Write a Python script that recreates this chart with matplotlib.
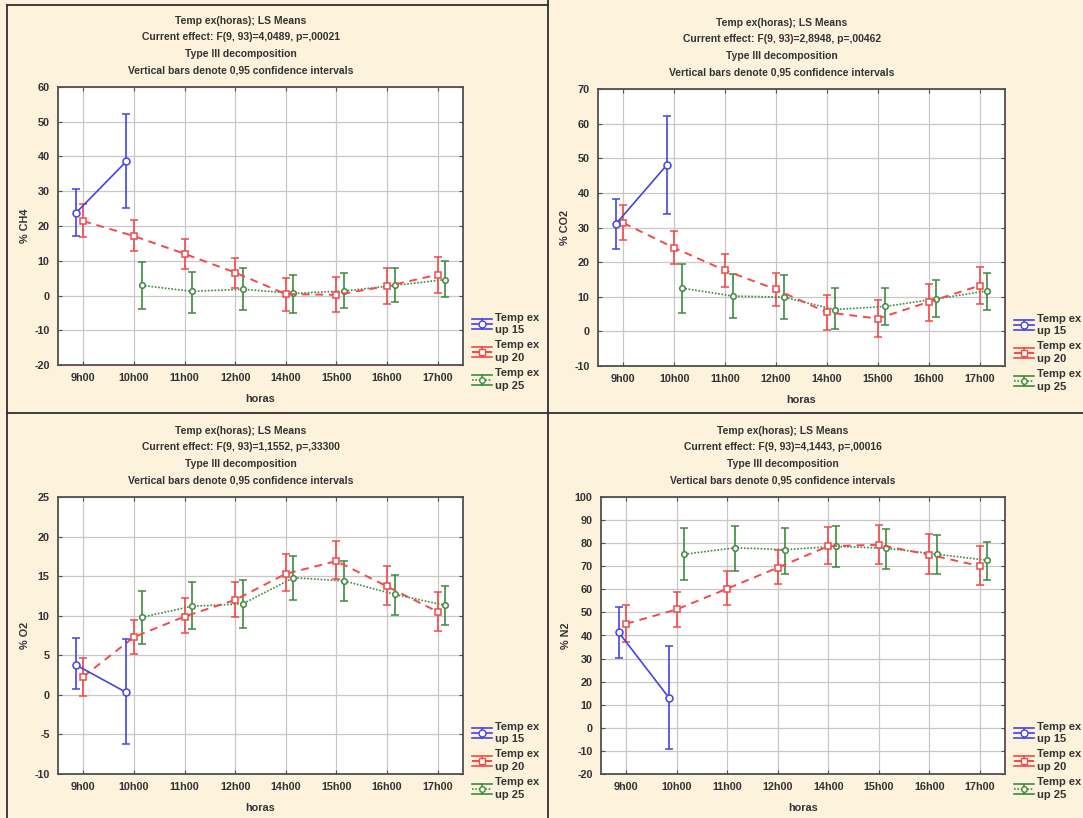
import matplotlib
matplotlib.use("Agg")
import matplotlib.pyplot as plt
from matplotlib.lines import Line2D
from matplotlib.legend_handler import HandlerBase
import numpy as np

plt.rcParams['font.family'] = ['Liberation Sans', 'DejaVu Sans']
plt.rcParams['axes.unicode_minus'] = False

hours = ["9h00", "10h00", "11h00", "12h00", "14h00", "15h00", "16h00", "17h00"]

# ---- CH4 ----
ch4_up15_mean = [23.7, 38.6]
ch4_up15_lo = [17.1, 25.3]
ch4_up15_hi = [30.6, 52.1]
ch4_up20_mean = [21.4, 17.1, 12.0, 6.6, 0.4, 0.2, 2.7, 6.0]
ch4_up20_lo = [16.9, 12.7, 7.6, 2.1, -4.5, -4.7, -2.5, 0.7]
ch4_up20_hi = [26.3, 21.6, 16.4, 10.8, 5.0, 5.4, 7.8, 11.0]
ch4_up25_mean = [2.9, 1.2, 1.8, 0.6, 1.3, 2.9, 4.6]
ch4_up25_lo = [-4.0, -5.0, -4.3, -5.0, -3.7, -2.0, -0.3]
ch4_up25_hi = [9.5, 6.9, 7.8, 6.0, 6.5, 8.0, 9.8]

# ---- CO2 ----
co2_up15_mean = [31.0, 48.0]
co2_up15_lo = [23.9, 34.0]
co2_up15_hi = [38.1, 62.1]
co2_up20_mean = [31.3, 24.1, 17.6, 12.1, 5.5, 3.7, 8.5, 13.2]
co2_up20_lo = [26.4, 19.6, 12.8, 7.2, 0.5, -1.7, 3.0, 7.8]
co2_up20_hi = [36.4, 28.9, 22.3, 16.8, 10.5, 9.1, 13.7, 18.6]
co2_up25_mean = [12.5, 10.2, 9.9, 6.3, 7.2, 9.4, 11.7]
co2_up25_lo = [5.3, 3.8, 3.7, 0.8, 1.7, 4.1, 6.3]
co2_up25_hi = [19.6, 16.5, 16.3, 12.4, 12.6, 14.8, 17.0]

# ---- O2 ----
o2_up15_mean = [3.8, 0.3]
o2_up15_lo = [0.7, -6.2]
o2_up15_hi = [7.2, 7.0]
o2_up20_mean = [2.3, 7.3, 9.9, 12.0, 15.3, 16.9, 13.7, 10.5]
o2_up20_lo = [-0.1, 5.1, 7.8, 9.9, 13.1, 14.6, 11.3, 8.1]
o2_up20_hi = [4.6, 9.5, 12.2, 14.3, 17.8, 19.4, 16.3, 13.0]
o2_up25_mean = [9.8, 11.2, 11.5, 14.8, 14.4, 12.7, 11.3]
o2_up25_lo = [6.4, 8.3, 8.4, 12.0, 11.8, 10.1, 8.8]
o2_up25_hi = [13.1, 14.3, 14.5, 17.5, 16.9, 15.1, 13.8]

# ---- N2 ----
n2_up15_mean = [41.4, 12.9]
n2_up15_lo = [30.3, -9.2]
n2_up15_hi = [52.5, 35.3]
n2_up20_mean = [45.1, 51.3, 60.3, 69.4, 78.7, 79.3, 75.0, 70.1]
n2_up20_lo = [37.2, 43.8, 53.4, 62.5, 71.0, 70.8, 66.8, 61.9]
n2_up20_hi = [53.0, 59.0, 68.1, 77.0, 86.8, 87.9, 83.8, 78.9]
n2_up25_mean = [75.2, 78.0, 77.2, 78.6, 77.8, 75.2, 72.6]
n2_up25_lo = [64.2, 67.8, 66.8, 69.5, 69.0, 66.8, 64.0]
n2_up25_hi = [86.4, 87.4, 86.6, 87.4, 86.0, 83.6, 80.7]

series_labels = ["Temp ex\nup 15", "Temp ex\nup 20", "Temp ex\nup 25"]

panels = [
    dict(ylabel="% CH4", ylim=(-20, 60), step=10, effect="F(9, 93)=4,0489, p=,00021",
         s15=(ch4_up15_mean, ch4_up15_lo, ch4_up15_hi),
         s20=(ch4_up20_mean, ch4_up20_lo, ch4_up20_hi),
         s25=(ch4_up25_mean, ch4_up25_lo, ch4_up25_hi),
         box=(58, 463, 87, 365), tx=241),
    dict(ylabel="% CO2", ylim=(-10, 70), step=10, effect="F(9, 93)=2,8948, p=,00462",
         s15=(co2_up15_mean, co2_up15_lo, co2_up15_hi),
         s20=(co2_up20_mean, co2_up20_lo, co2_up20_hi),
         s25=(co2_up25_mean, co2_up25_lo, co2_up25_hi),
         box=(598, 1005, 89, 366), tx=782),
    dict(ylabel="% O2", ylim=(-10, 25), step=5, effect="F(9, 93)=1,1552, p=,33300",
         s15=(o2_up15_mean, o2_up15_lo, o2_up15_hi),
         s20=(o2_up20_mean, o2_up20_lo, o2_up20_hi),
         s25=(o2_up25_mean, o2_up25_lo, o2_up25_hi),
         box=(58, 463, 497, 774), tx=241),
    dict(ylabel="% N2", ylim=(-20, 100), step=10, effect="F(9, 93)=4,1443, p=,00016",
         s15=(n2_up15_mean, n2_up15_lo, n2_up15_hi),
         s20=(n2_up20_mean, n2_up20_lo, n2_up20_hi),
         s25=(n2_up25_mean, n2_up25_lo, n2_up25_hi),
         box=(601, 1005, 497, 774), tx=783),
]

W, H = 1083, 818
BG = "#FDF2DB"
C15, C20, C25 = "#4444E6", "#F04A4A", "#3F8A3F"
styles = [
    dict(color=C15, ls='-', marker='o', ms=5, lw=1.2),
    dict(color=C20, ls=(0, (4, 3)), marker='s', ms=5, lw=1.4),
    dict(color=C25, ls=(0, (1, 1)), marker='o', ms=4, lw=1.2),
]


class ErrHandler(HandlerBase):
    def __init__(self, st):
        super().__init__()
        self.st = st

    def create_artists(self, legend, orig_handle, xdescent, ydescent, width, height,
                       fontsize, trans):
        st = self.st
        x0 = -xdescent
        x1 = x0 + width
        yc = -ydescent + height / 2
        h = 3.6
        arts = []
        for yy in (yc - h, yc + h):
            arts.append(Line2D([x0, x1], [yy, yy], color=st['color'], lw=1.2))
        arts.append(Line2D([x0, x1], [yc, yc], color=st['color'], lw=st['lw'], ls=st['ls']))
        xm = (x0 + x1) / 2
        arts.append(Line2D([xm, xm], [yc - h, yc + h], color=st['color'], lw=1.2))
        arts.append(Line2D([xm], [yc], marker=st['marker'], ms=st['ms'], mfc='white',
                           mec=st['color'], mew=1.0, ls='none'))
        for a in arts:
            a.set_transform(trans)
        return arts


fig = plt.figure(figsize=(W / 100, H / 100), dpi=100, facecolor=BG)


def fx(px):
    return px / W


def fy(py):
    return 1 - py / H


tfont = dict(fontsize=7.5, fontweight='bold', color="#333333")

for p in panels:
    l, r, t, b = p["box"]
    ax = fig.add_axes([fx(l), fy(b), (r - l) / W, (b - t) / H])
    ax.set_facecolor("white")
    x = np.arange(len(hours))
    handles = []
    for k, (key, xs, z) in enumerate([("s15", x[:2] - 0.15, 5),
                                       ("s20", x, 4),
                                       ("s25", x[1:] + 0.15, 3)]):
        m, lo, hi = p[key]
        m = np.array(m); lo = np.array(lo); hi = np.array(hi)
        st = styles[k]
        hnd = ax.errorbar(xs, m, yerr=[m - lo, hi - m], color=st['color'], lw=st['lw'],
                          ls=st['ls'], marker=st['marker'], ms=st['ms'], mfc='white',
                          mec=st['color'], mew=1.1, capsize=3, capthick=1.2,
                          elinewidth=1.2, zorder=z)
        handles.append(hnd)
    ax.set_xlim(-0.5, len(hours) - 0.5)
    ax.set_ylim(*p["ylim"])
    ax.set_xticks(x)
    ax.set_xticklabels(hours)
    ax.set_yticks(np.arange(p["ylim"][0], p["ylim"][1] + 0.1, p["step"]))
    ax.grid(True, color="#C8C8C8", lw=0.9, ls='-')
    ax.set_axisbelow(True)
    for s in ax.spines.values():
        s.set_color("#505050")
        s.set_linewidth(1.3)
    ax.tick_params(axis='both', direction='in', length=3, color="#505050",
                   labelsize=7.8, labelcolor="#333333", top=True, right=True, pad=6)
    for lab in ax.get_xticklabels() + ax.get_yticklabels():
        lab.set_fontweight('bold')
    ax.set_xlabel("horas", fontsize=7.8, fontweight='bold', color="#333333", labelpad=8)
    ax.set_ylabel(p["ylabel"], fontsize=7.8, fontweight='bold', color="#333333", labelpad=3)

    lines = ["Temp ex(horas); LS Means",
             "Current effect: " + p["effect"],
             "Type III decomposition",
             "Vertical bars denote 0,95 confidence intervals"]
    for i, txt in enumerate(lines):
        fig.text(fx(p["tx"]), fy(t - 66 + 16.5 * i), txt, ha='center', va='center', **tfont)

    leg = fig.legend(handles, series_labels,
                     handler_map={handles[i]: ErrHandler(styles[i]) for i in range(3)},
                     loc='upper left', bbox_to_anchor=(fx(r + 3), fy(b - 58)),
                     frameon=False, fontsize=8, handlelength=1.8, labelspacing=0.45,
                     handletextpad=0.35, borderpad=0)
    for ttxt in leg.get_texts():
        ttxt.set_fontweight('bold')
        ttxt.set_color("#333333")
        ttxt.set_linespacing(1.35)


def fline(x0, y0, x1, y1):
    fig.add_artist(Line2D([fx(x0), fx(x1)], [fy(y0), fy(y1)], color="#303030", lw=1.3))


fline(7, 5, 548, 5)
fline(7, 5, 7, 818)
fline(548, 0, 548, 818)
fline(7, 413, 1083, 413)

fig.savefig("out.png", dpi=100, facecolor=BG)
